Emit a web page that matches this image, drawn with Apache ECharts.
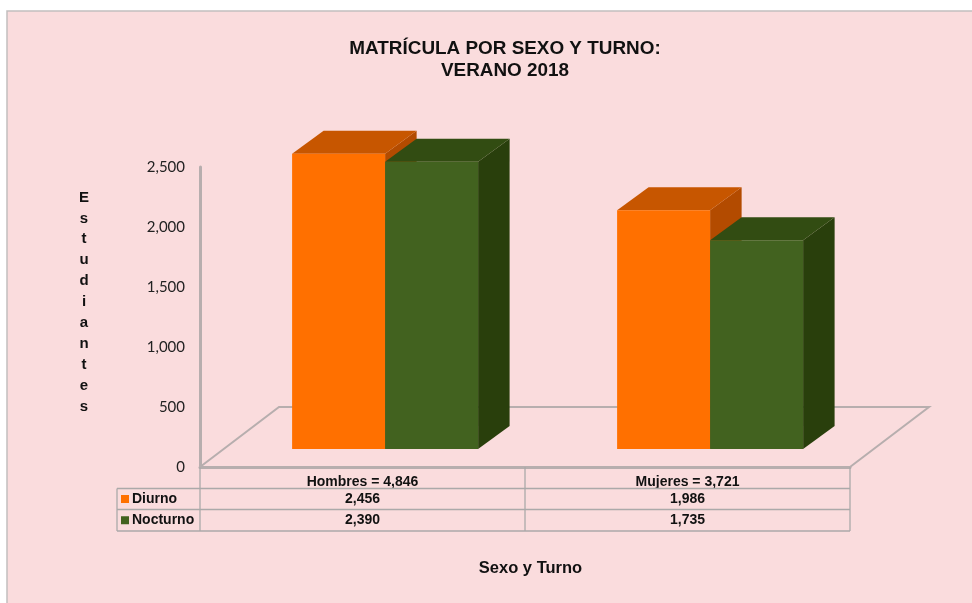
<!DOCTYPE html>
<html>
<head>
<meta charset="utf-8">
<style>html,body{margin:0;padding:0;background:#fff}#c{width:972px;height:603px}</style>
<script src="https://cdn.jsdelivr.net/npm/echarts@6/dist/echarts.min.js"></script>
</head>
<body>
<div id="c"></div>
<script>
const categories = ['Hombres = 4,846', 'Mujeres = 3,721'];
const seriesNames = ['Diurno', 'Nocturno'];
const diurno = [2456, 1986];
const nocturno = [2390, 1735];
const yTicks = { min: 0, max: 2500, interval: 500 };
const chartTitle = 'MATRÍCULA POR SEXO Y TURNO:\nVERANO 2018';
const yTitle = 'Estudiantes';
const xTitle = 'Sexo y Turno';

const PINK = '#FADCDD', AXIS = '#B7AEAE', TABLE = '#ABA9A9', INK = '#111';
const FONT = '"Liberation Sans", Arial, sans-serif';
const palettes = [
  { front: '#FF7000', top: '#C75600', side: '#B34B00' },
  { front: '#42621F', top: '#324C12', side: '#293F0C' }
];
const grid = { left: 200, top: 167, width: 650, height: 300 };
const FLOOR_DX = 79, FLOOR_DY = 60;      // full floor depth
const SET_DX = 22.6, SET_DY = 18;        // bars stand this far back on the floor
const DEPTH_DX = 31.5, DEPTH_DY = 23;    // depth of each box
const BAR_RATIO = 93 / 325;              // bar width as share of a category band
const rows = [
  { name: seriesNames[0], values: diurno, color: palettes[0].front },
  { name: seriesNames[1], values: nocturno, color: palettes[1].front }
];

function boxItem(seriesIndex) {
  return function (params, api) {
    const cat = api.value(0), val = api.value(1);
    const band = api.size([1, 0])[0];
    const w = band * BAR_RATIO;
    const base = api.coord([cat, 0]);
    const top = api.coord([cat, val]);
    const x0 = base[0] + SET_DX + (seriesIndex === 0 ? -w : 0);
    const x1 = x0 + w;
    const yb = base[1] - SET_DY, yt = top[1] - SET_DY - 0.5;
    const p = palettes[seriesIndex];
    const poly = (pts, fill) => ({ type: 'polygon', shape: { points: pts }, style: { fill: fill } });
    return {
      type: 'group',
      children: [
        poly([[x1, yb], [x1 + DEPTH_DX, yb - DEPTH_DY], [x1 + DEPTH_DX, yt - DEPTH_DY], [x1, yt]], p.side),
        poly([[x0, yt], [x1, yt], [x1 + DEPTH_DX, yt - DEPTH_DY], [x0 + DEPTH_DX, yt - DEPTH_DY]], p.top),
        poly([[x0, yb], [x1, yb], [x1, yt], [x0, yt]], p.front)
      ]
    };
  };
}

function floorItem(params) {
  const g = params.coordSys;
  const x0 = g.x, x1 = g.x + g.width, y = g.y + g.height;
  return {
    type: 'polyline',
    shape: { points: [[x0, y], [x0 + FLOOR_DX, y - FLOOR_DY], [x1 + FLOOR_DX, y - FLOOR_DY], [x1, y]] },
    style: { stroke: AXIS, lineWidth: 2, fill: null }
  };
}

// Data table below the plot
const tableEls = [];
const colX = [117, grid.left, grid.left + grid.width / 2, grid.left + grid.width];
const rowY = [467, 488.5, 509.5, 531];
const line = (x1, y1, x2, y2) => ({
  type: 'line', z: 1, silent: true,
  shape: { x1, y1, x2, y2 }, style: { stroke: TABLE, lineWidth: 1.3 }
});
for (let i = 1; i < rowY.length; i++) tableEls.push(line(colX[0], rowY[i], colX[3], rowY[i]));
tableEls.push(line(colX[0], rowY[1], colX[0], rowY[3]));
for (let i = 1; i < colX.length; i++) tableEls.push(line(colX[i], rowY[0], colX[i], rowY[3]));
rows.forEach((r, ri) => {
  const cy = (rowY[ri + 1] + rowY[ri + 2]) / 2;
  tableEls.push({ type: 'rect', z: 3, shape: { x: 121, y: cy - 4, width: 8, height: 8 }, style: { fill: r.color } });
  tableEls.push({ type: 'text', z: 3, style: { text: r.name, x: 132, y: cy, fill: INK, font: 'bold 14px ' + FONT, textVerticalAlign: 'middle' } });
  r.values.forEach((v, ci) => {
    tableEls.push({
      type: 'text', z: 3,
      style: { text: v.toLocaleString('en-US'), x: (colX[ci + 1] + colX[ci + 2]) / 2, y: cy, fill: INK, font: 'bold 14px ' + FONT, textAlign: 'center', textVerticalAlign: 'middle' }
    });
  });
});

const yTitleEl = {
  type: 'text', z: 3, silent: true,
  style: {
    text: yTitle.split('').join('\n'), x: 84, y: 302, fill: INK,
    font: 'bold 15px ' + FONT, lineHeight: 20.9, textAlign: 'center', textVerticalAlign: 'middle'
  }
};

const chart = echarts.init(document.getElementById('c'), null, { renderer: 'canvas' });
chart.setOption({
  animation: false,
  backgroundColor: '#fff',
  title: {
    text: chartTitle, left: 500, top: 33, textAlign: 'center',
    textStyle: { fontFamily: FONT, fontWeight: 'bold', fontSize: 18.9, lineHeight: 22, color: INK }
  },
  grid: grid,
  xAxis: {
    type: 'category', data: categories,
    axisLine: { show: true, lineStyle: { color: AXIS, width: 3 } },
    axisTick: { show: false },
    axisLabel: { margin: 8, fontFamily: FONT, fontWeight: 'bold', fontSize: 14, color: INK },
    name: xTitle, nameLocation: 'middle', nameGap: 93,
    nameTextStyle: { fontFamily: FONT, fontWeight: 'bold', fontSize: 16.5, color: INK, padding: [0, 0, 0, 11] }
  },
  yAxis: {
    type: 'value', min: yTicks.min, max: yTicks.max, interval: yTicks.interval,
    axisLine: { show: true, lineStyle: { color: AXIS, width: 3 } },
    axisTick: { show: false },
    splitLine: { show: false },
    axisLabel: {
      margin: 15, fontFamily: 'Lato, sans-serif', fontSize: 15, color: '#222',
      formatter: v => v.toLocaleString('en-US')
    }
  },
  graphic: {
    elements: [
      { type: 'rect', z: -10, silent: true, shape: { x: 7, y: 11, width: 975, height: 600 }, style: { fill: PINK, stroke: '#C2BEBE', lineWidth: 1.5 } },
      yTitleEl
    ].concat(tableEls)
  },
  series: [
    { type: 'custom', name: 'Piso', silent: true, renderItem: floorItem, data: [[0, 0]], encode: { x: 0, y: 1 } },
    { type: 'custom', name: seriesNames[0], renderItem: boxItem(0), data: diurno.map((v, i) => [i, v]), encode: { x: 0, y: 1 } },
    { type: 'custom', name: seriesNames[1], renderItem: boxItem(1), data: nocturno.map((v, i) => [i, v]), encode: { x: 0, y: 1 } }
  ]
});
</script>
</body>
</html>
